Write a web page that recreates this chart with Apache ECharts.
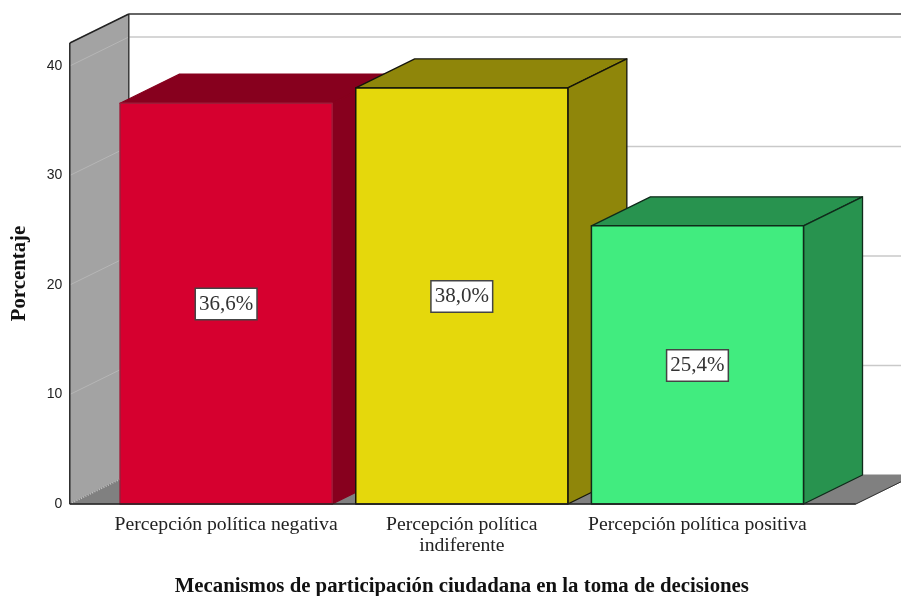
<!DOCTYPE html>
<html><head><meta charset="utf-8">
<style>html,body{margin:0;padding:0;background:#fff}#c{width:901px;height:596px}</style>
<script src="https://cdn.jsdelivr.net/npm/echarts@6/dist/echarts.min.js"></script>
</head><body><div id="c"></div>
<script>
const categories = ['Percepción política negativa', 'Percepción política\nindiferente', 'Percepción política positiva'];
const values = [36.6, 38.0, 25.4];
const faceColors = ['#d6002f', '#e5d80c', '#41ec7f'];
const shadeColors = ['#87001e', '#8f860a', '#28934f'];
const edgeColors = ['#a01a38', '#15150a', '#0f2a1a'];
const yTicks = [0, 10, 20, 30, 40];
const yTop = 42.1;
const depth = [59, -29];
const sideInset = 38.5;

const serif = '"Liberation Serif","Times New Roman",serif';
const chart = echarts.init(document.getElementById('c'));

function poly(points, fill, stroke, lw) {
  return { type: 'polygon', shape: { points: points }, style: { fill: fill, stroke: stroke || fill, lineWidth: lw == null ? 1 : lw, lineJoin: 'round' } };
}
function seg(a, b, stroke, lw, dash) {
  return { type: 'line', shape: { x1: a[0], y1: a[1], x2: b[0], y2: b[1] }, style: { stroke: stroke, lineWidth: lw || 1, lineDash: dash || null, fill: null } };
}
function shift(p) { return [p[0] + depth[0], p[1] + depth[1]]; }

function renderFrame(params, api) {
  const band = api.size([1, 0])[0];
  const xL = api.coord([0, 0])[0] - band / 2 - sideInset;
  const xR = api.coord([categories.length - 1, 0])[0] + band / 2 + sideInset + 2;
  const y0 = api.coord([0, 0])[1];
  const yT = api.coord([0, yTop])[1];
  const fl = [xL, y0], fr = [xR, y0], tl = [xL, yT];
  const children = [
    poly([fl, shift(fl), shift(tl), tl], '#a3a3a3'),
    poly([fl, fr, shift(fr), shift(fl)], '#808080')
  ];
  yTicks.forEach(function (t) {
    const y = api.coord([0, t])[1];
    const a = [xL, y], b = shift(a);
    if (t > 0) {
      children.push(seg(a, b, '#b6b6b6', 1));
      children.push(seg(b, [xR + depth[0], b[1]], '#c9c9c9', 1.4));
    }
  });
  children.push(seg(fl, shift(fl), '#c4c4c4', 1.5, [1, 1.5]));
  children.push(seg(fl, tl, '#222', 1.4));
  children.push(seg(tl, shift(tl), '#222', 1.4));
  children.push(seg(shift(tl), shift(fl), '#222', 1.2));
  children.push(seg(shift(tl), [xR + depth[0], shift(tl)[1]], '#333', 1.5));
  children.push(seg(fr, shift(fr), '#333', 1));
  return { type: 'group', children: children };
}

function renderBaseline(params, api) {
  const band = api.size([1, 0])[0];
  const xL = api.coord([0, 0])[0] - band / 2 - sideInset;
  const xR = api.coord([categories.length - 1, 0])[0] + band / 2 + sideInset + 2;
  const y0 = api.coord([0, 0])[1];
  return seg([xL, y0], [xR, y0], '#222', 1.5);
}

function renderBar(params, api) {
  const i = params.dataIndex;
  const cx = api.coord([api.value(0), 0])[0];
  const y0 = api.coord([api.value(0), 0])[1];
  const y1 = api.coord([api.value(0), api.value(1)])[1];
  const w = api.size([1, 0])[0] * 0.9;
  const x1 = cx - w / 2, x2 = cx + w / 2;
  const a = [x1, y1], b = [x2, y1], c = [x2, y0], d = [x1, y0];
  const edge = edgeColors[i];
  return {
    type: 'group',
    children: [
      poly([a, b, shift(b), shift(a)], shadeColors[i], i === 0 ? shadeColors[i] : edge, 1.3),
      poly([b, c, shift(c), shift(b)], shadeColors[i], i === 0 ? shadeColors[i] : edge, 1.3),
      poly([a, b, c, d], faceColors[i], edge, 1.5),
      {
        type: 'text', z2: 10,
        style: {
          x: cx, y: (y0 + y1) / 2 + 0.5,
          text: api.value(1).toFixed(1).replace('.', ',') + '%',
          align: 'center', verticalAlign: 'middle',
          font: '21px ' + serif, fill: '#333',
          backgroundColor: '#fff', borderColor: '#444', borderWidth: 1.5,
          padding: [5, 3, 4, 3]
        }
      }
    ]
  };
}

chart.setOption({
  animation: false,
  backgroundColor: '#fff',
  grid: { left: 108.3, right: 85.7, top: 43, bottom: 92, outerBoundsMode: 'none' },
  xAxis: {
    type: 'category', data: categories,
    axisLine: { show: false }, axisTick: { show: false },
    axisLabel: {
      interval: 0, margin: 10, lineHeight: 21,
      fontFamily: serif, fontSize: 19.7, color: '#222'
    },
    name: 'Mecanismos de participación ciudadana en la toma de decisiones',
    nameLocation: 'center', nameGap: 72,
    nameTextStyle: { fontFamily: serif, fontSize: 20.8, fontWeight: 'bold', color: '#111' }
  },
  yAxis: {
    type: 'value', min: 0, max: yTop, interval: 10,
    offset: sideInset,
    axisLine: { show: false }, axisTick: { show: false }, splitLine: { show: false },
    axisLabel: { margin: 7.5, showMaxLabel: false, padding: [2, 0, 0, 0], fontFamily: '"Liberation Sans",Arial,sans-serif', fontSize: 14, color: '#222' },
    name: 'Porcentaje', nameLocation: 'center', nameGap: 40, nameRotate: 90,
    nameTextStyle: { fontFamily: serif, fontSize: 20.8, fontWeight: 'bold', color: '#111' }
  },
  series: [
    { type: 'custom', z: 1, silent: true, clip: false, renderItem: renderFrame, data: [[categories[0], 0]], encode: { x: 0, y: 1 } },
    { type: 'custom', z: 2, silent: true, clip: false, renderItem: renderBar,
      data: categories.map(function (c, i) { return [c, values[i]]; }), encode: { x: 0, y: 1 } },
    { type: 'custom', z: 3, silent: true, clip: false, renderItem: renderBaseline, data: [[categories[0], 0]], encode: { x: 0, y: 1 } }
  ]
});
</script></body></html>
